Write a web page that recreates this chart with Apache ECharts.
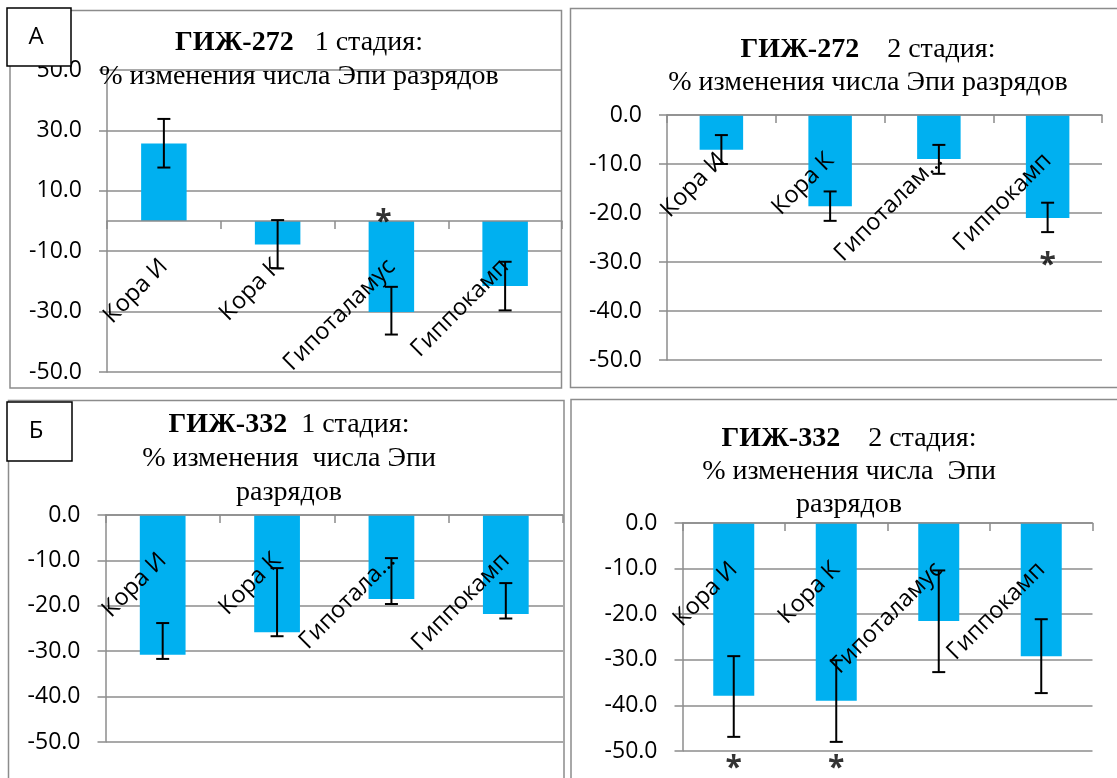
<!DOCTYPE html>
<html>
<head>
<meta charset="utf-8">
<script src="https://cdn.jsdelivr.net/npm/echarts@6/dist/echarts.min.js"></script>
<style>
  html, body { margin: 0; padding: 0; background: #fff; }
  #chart { width: 1117px; height: 778px; }
</style>
</head>
<body>
<div id="chart"></div>
<script>
// ---- data -------------------------------------------------------------
const categories = ['Кора И', 'Кора К', 'Гипоталамус', 'Гиппокамп'];

// tick labels as shown under each chart (long names are cut off)
const labelsA1 = ['Кора И', 'Кора К', 'Гипоталамус', 'Гиппокамп'];
const labelsA2 = ['Кора И', 'Кора К', 'Гипоталам…', 'Гиппокамп'];
const labelsB1 = ['Кора И', 'Кора К', 'Гипотала…', 'Гиппокамп'];
const labelsB2 = ['Кора И', 'Кора К', 'Гипоталамус', 'Гиппокамп'];

// ГИЖ-272, 1 стадия
const valuesA1  = [25.7, -7.8, -30.1, -21.5];
const errHighA1 = [33.8, 0.3, -21.8, -13.5];
const errLowA1  = [17.7, -15.7, -37.6, -29.6];
const starsA1   = [null, null, 1.9, null];

// ГИЖ-272, 2 стадия
const valuesA2  = [-7.1, -18.6, -9.0, -21.0];
const errHighA2 = [-4.1, -15.6, -6.1, -17.9];
const errLowA2  = [-10.0, -21.6, -12.0, -23.9];
const starsA2   = [null, null, null, -29.2];

// ГИЖ-332, 1 стадия
const valuesB1  = [-30.8, -25.8, -18.5, -21.8];
const errHighB1 = [-23.8, -11.7, -9.5, -15.0];
const errLowB1  = [-31.7, -26.7, -19.6, -22.8];
const starsB1   = [null, null, null, null];

// ГИЖ-332, 2 стадия
const valuesB2  = [-37.9, -39.0, -21.5, -29.2];
const errHighB2 = [-29.2, -30.1, -10.4, -21.1];
const errLowB2  = [-46.9, -48.0, -32.7, -37.3];
const starsB2   = [-52.2, -52.4, null, null];

// value axis ranges
const yRangeA1 = { min: -50, max: 50, interval: 20 };
const yRangeA2 = { min: -50, max: 0, interval: 10 };
const yRangeB1 = { min: -50, max: 0, interval: 10 };
const yRangeB2 = { min: -50, max: 0, interval: 10 };

// chart titles: bold code, stage, description lines
const titleA1 = ['ГИЖ-272', '   1 стадия:', ['% изменения числа Эпи разрядов']];
const titleA2 = ['ГИЖ-272', '    2 стадия:', ['% изменения числа Эпи разрядов']];
const titleB1 = ['ГИЖ-332', '  1 стадия:', ['% изменения  числа Эпи', 'разрядов']];
const titleB2 = ['ГИЖ-332', '    2 стадия:', ['% изменения числа  Эпи', 'разрядов']];

// ---- styling ----------------------------------------------------------
const SANS = '"Open Sans", "Noto Sans", sans-serif';
const SERIF = '"Liberation Serif", "Times New Roman", serif';
const GRAY = '#8c8c8c';
const BAR = '#00B0F0';

const panels = [
  { grid: { left: 107, top: 70, width: 455, height: 302 }, range: yRangeA1,
    labels: labelsA1, values: valuesA1, hi: errHighA1, lo: errLowA1, stars: starsA1,
    starOffset: [-8, 7], labelMargin: 42,
    title: titleA1, titleX: 299, titleTop: 26, lineH: 34 },
  { grid: { left: 667, top: 115, width: 435, height: 245 }, range: yRangeA2,
    labels: labelsA2, values: valuesA2, hi: errHighA2, lo: errLowA2, stars: starsA2,
    starOffset: [0, 7], labelMargin: 42,
    title: titleA2, titleX: 868, titleTop: 33.5, lineH: 33 },
  { grid: { left: 105.5, top: 515, width: 457.5, height: 227 }, range: yRangeB1,
    labels: labelsB1, values: valuesB1, hi: errHighB1, lo: errLowB1, stars: starsB1,
    starOffset: [0, 7], labelMargin: 42,
    title: titleB1, titleX: 289, titleTop: 408, lineH: 34 },
  { grid: { left: 682.5, top: 523, width: 410, height: 228 }, range: yRangeB2,
    labels: labelsB2, values: valuesB2, hi: errHighB2, lo: errLowB2, stars: starsB2,
    starOffset: [0, 7], labelMargin: 43,
    title: titleB2, titleX: 849, titleTop: 422.5, lineH: 33 }
];

function titleText(t) {
  return '{b|' + t[0] + '}{n|' + t[1] + '}\n' + t[2].map(s => '{n|' + s + '}').join('\n');
}

const grids = [], xAxes = [], yAxes = [], series = [], titles = [];

panels.forEach((p, i) => {
  grids.push(Object.assign({ containLabel: false, outerBoundsMode: 'none' }, p.grid));

  xAxes.push({
    type: 'category', gridIndex: i, data: categories, z: 3,
    axisLine: { onZero: false, lineStyle: { color: GRAY, width: 1.5 } },
    axisTick: { show: true, length: 8, lineStyle: { color: GRAY, width: 1.5 } },
    splitLine: { show: false },
    axisLabel: {
      interval: 0, rotate: 45, margin: p.labelMargin,
      fontFamily: SANS, fontSize: 23.5, color: '#000',
      formatter: (v, k) => p.labels[k]
    }
  });

  yAxes.push({
    type: 'value', gridIndex: i,
    min: p.range.min, max: p.range.max, interval: p.range.interval,
    axisLine: { show: true, lineStyle: { color: GRAY, width: 1.5 } },
    axisTick: { show: true, length: 8, lineStyle: { color: GRAY, width: 1.5 } },
    splitLine: { show: true, lineStyle: { color: GRAY, width: 1.5 } },
    axisLabel: {
      margin: 25, fontFamily: SANS, fontSize: 23, color: '#000',
      showMinLabel: true, showMaxLabel: true,
      formatter: v => v.toFixed(1)
    }
  });

  series.push({
    type: 'bar', xAxisIndex: i, yAxisIndex: i,
    data: p.values, barCategoryGap: '60%',
    itemStyle: { color: BAR }, z: 2
  });

  // error bars: vertical whisker with caps from low to high value
  series.push({
    type: 'custom', xAxisIndex: i, yAxisIndex: i, z: 4,
    data: p.values.map((v, k) => [k, p.lo[k], p.hi[k]]),
    encode: { x: 0, y: [1, 2] },
    renderItem: (params, api) => {
      const k = api.value(0);
      const a = api.coord([k, api.value(1)]);
      const b = api.coord([k, api.value(2)]);
      const hw = 6.5;
      const st = { stroke: '#000', lineWidth: 2 };
      return {
        type: 'group',
        children: [
          { type: 'line', shape: { x1: a[0], y1: a[1], x2: b[0], y2: b[1] }, style: st },
          { type: 'line', shape: { x1: a[0] - hw, y1: a[1], x2: a[0] + hw, y2: a[1] }, style: st },
          { type: 'line', shape: { x1: b[0] - hw, y1: b[1], x2: b[0] + hw, y2: b[1] }, style: st }
        ]
      };
    }
  });

  // significance marks
  series.push({
    type: 'scatter', xAxisIndex: i, yAxisIndex: i, z: 5, clip: false,
    symbolSize: 0, silent: true,
    data: p.stars.map((s, k) => (s === null ? null : [k, s])).filter(d => d),
    label: {
      show: true, position: 'inside', formatter: '*', offset: p.starOffset,
      fontFamily: SANS, fontSize: 30, fontWeight: 'bold', color: '#000'
    }
  });

  titles.push({
    text: titleText(p.title),
    left: p.titleX, top: p.titleTop, textAlign: 'center', textVerticalAlign: 'top',
    padding: 0,
    textStyle: {
      rich: {
        b: { fontFamily: SERIF, fontWeight: 'bold', fontSize: 28, lineHeight: p.lineH, color: '#000' },
        n: { fontFamily: SERIF, fontWeight: 'normal', fontSize: 28, lineHeight: p.lineH, color: '#000' }
      }
    }
  });
});

// panel frames and the А / Б tags
function frame(x, y, w, h) {
  return { type: 'rect', silent: true, z: -1,
    shape: { x: x, y: y, width: w, height: h },
    style: { fill: 'none', stroke: GRAY, lineWidth: 1.5 } };
}
function tag(x, y, w, h, letter, tx) {
  return [
    { type: 'rect', z: 100, shape: { x: x, y: y, width: w, height: h },
      style: { fill: '#fff', stroke: '#000', lineWidth: 1.5 } },
    { type: 'text', z: 101, x: tx, y: y + h / 2,
      style: { text: letter, font: '24px ' + SANS, fill: '#000',
        align: 'center', verticalAlign: 'middle', textAlign: 'center', textVerticalAlign: 'middle' } }
  ];
}

const graphics = [
  frame(10, 10.5, 551.5, 377.5),
  frame(570.5, 8.5, 600, 379),
  frame(8.5, 400.5, 555.5, 500),
  frame(571, 399.5, 600, 500)
].concat(tag(7, 8, 64, 58, 'А', 36), tag(7, 402, 65, 59, 'Б', 36));

const chart = echarts.init(document.getElementById('chart'), null, { renderer: 'canvas' });
chart.setOption({
  animation: false,
  backgroundColor: '#fff',
  title: titles,
  grid: grids,
  xAxis: xAxes,
  yAxis: yAxes,
  series: series,
  graphic: graphics
});

// move each category axis (line, ticks, labels) up to the value-axis zero
chart.setOption({
  xAxis: panels.map((p, i) => {
    const zeroY = chart.convertToPixel({ yAxisIndex: i }, 0);
    const bottomY = chart.convertToPixel({ yAxisIndex: i }, p.range.min);
    return { offset: zeroY - bottomY };
  })
});
</script>
</body>
</html>
